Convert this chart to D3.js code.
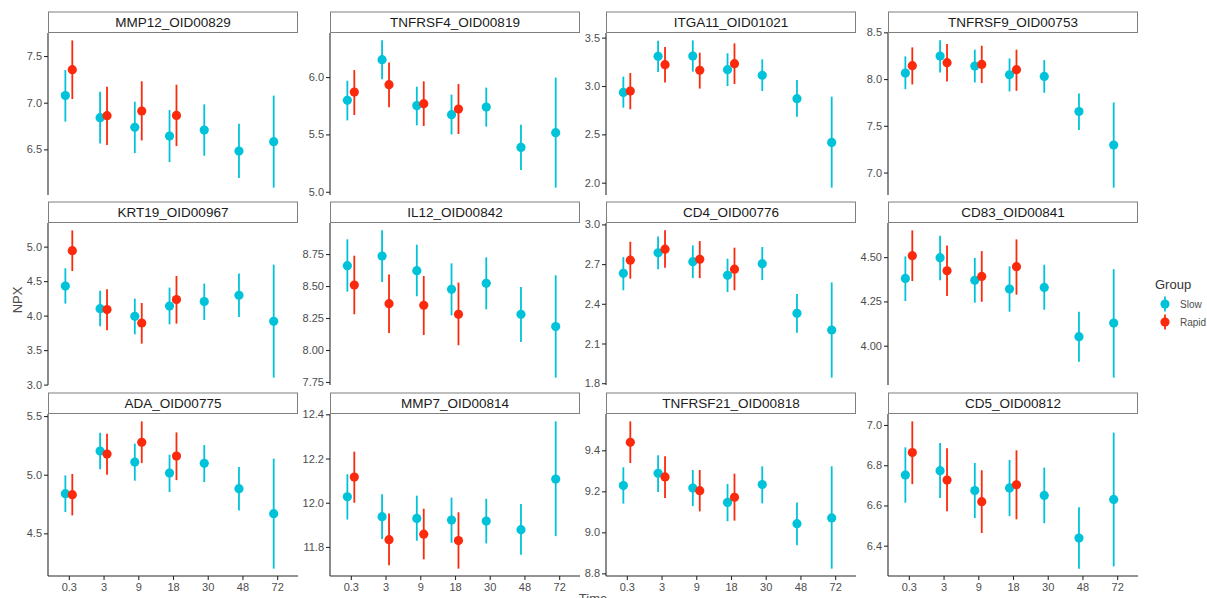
<!DOCTYPE html>
<html>
<head>
<meta charset="utf-8">
<script src="https://cdn.jsdelivr.net/npm/d3@7"></script>
<style>
  html, body { margin: 0; padding: 0; background: #fff; }
  svg { display: block; font-family: 'Liberation Sans', Arial, Helvetica, sans-serif; }
</style>
</head>
<body>
<div id="chart"></div>
<script>
'use strict';

// data
const proteins = ['MMP12_OID00829', 'TNFRSF4_OID00819', 'ITGA11_OID01021', 'TNFRSF9_OID00753',
                  'KRT19_OID00967', 'IL12_OID00842', 'CD4_OID00776', 'CD83_OID00841',
                  'ADA_OID00775', 'MMP7_OID00814', 'TNFRSF21_OID00818', 'CD5_OID00812'];
const times = ['0.3', '3', '9', '18', '30', '48', '72'];
const groups = ['Slow', 'Rapid'];

// slow group: 7 time points
const slowMean = [
    [7.076, 6.84, 6.736, 6.643, 6.707, 6.482, 6.582],
    [5.797, 6.152, 5.751, 5.672, 5.738, 5.387, 5.515],
    [2.934, 3.307, 3.31, 3.169, 3.11, 2.869, 2.417],
    [8.064, 8.246, 8.139, 8.046, 8.028, 7.653, 7.295],
    [4.429, 4.101, 3.99, 4.139, 4.203, 4.294, 3.917],
    [8.659, 8.734, 8.62, 8.474, 8.521, 8.279, 8.183],
    [2.63, 2.786, 2.718, 2.615, 2.703, 2.328, 2.202],
    [4.38, 4.497, 4.369, 4.32, 4.329, 4.051, 4.128],
    [4.838, 5.202, 5.108, 5.014, 5.097, 4.881, 4.668],
    [12.027, 11.937, 11.929, 11.922, 11.917, 11.878, 12.107],
    [9.228, 9.288, 9.216, 9.146, 9.233, 9.042, 9.07],
    [6.751, 6.773, 6.674, 6.687, 6.65, 6.438, 6.63]
];
const slowLow = [
    [6.797, 6.564, 6.46, 6.364, 6.432, 6.192, 6.09],
    [5.622, 5.98, 5.579, 5.5, 5.568, 5.189, 5.036],
    [2.776, 3.144, 3.148, 2.999, 2.948, 2.683, 1.949],
    [7.892, 8.071, 7.964, 7.868, 7.853, 7.456, 6.839],
    [4.174, 3.845, 3.729, 3.874, 3.936, 3.98, 3.101],
    [8.456, 8.531, 8.42, 8.271, 8.318, 8.063, 7.784],
    [2.502, 2.662, 2.594, 2.489, 2.579, 2.182, 1.842],
    [4.252, 4.37, 4.243, 4.192, 4.203, 3.91, 3.82],
    [4.682, 5.046, 4.949, 4.852, 4.937, 4.694, 4.199],
    [11.924, 11.836, 11.828, 11.819, 11.816, 11.765, 11.849],
    [9.14, 9.197, 9.128, 9.054, 9.141, 8.937, 8.823],
    [6.614, 6.637, 6.537, 6.547, 6.512, 6.286, 6.297]
];
const slowHigh = [
    [7.35, 7.118, 7.011, 6.921, 6.982, 6.775, 7.076],
    [5.968, 6.32, 5.916, 5.847, 5.908, 5.585, 5.995],
    [3.097, 3.469, 3.472, 3.338, 3.276, 3.062, 2.89],
    [8.243, 8.414, 8.314, 8.221, 8.203, 7.846, 7.75],
    [4.686, 4.362, 4.246, 4.406, 4.464, 4.609, 4.739],
    [8.865, 8.935, 8.823, 8.677, 8.724, 8.492, 8.584],
    [2.753, 2.909, 2.841, 2.741, 2.829, 2.474, 2.562],
    [4.504, 4.621, 4.496, 4.448, 4.457, 4.192, 4.432],
    [4.994, 5.358, 5.265, 5.171, 5.253, 5.065, 5.137],
    [12.129, 12.038, 12.032, 12.023, 12.018, 11.994, 12.368],
    [9.317, 9.376, 9.304, 9.236, 9.322, 9.145, 9.322],
    [6.889, 6.91, 6.811, 6.826, 6.788, 6.591, 6.962]
];

// rapid group: first 4 time points only
const rapidMean = [
    [7.354, 6.861, 6.911, 6.864],
    [5.869, 5.934, 5.768, 5.721],
    [2.948, 3.221, 3.162, 3.231],
    [8.143, 8.175, 8.157, 8.1],
    [4.942, 4.087, 3.893, 4.232],
    [8.508, 8.362, 8.349, 8.279],
    [2.73, 2.813, 2.736, 2.662],
    [4.508, 4.423, 4.391, 4.446],
    [4.83, 5.176, 5.276, 5.159],
    [12.116, 11.833, 11.858, 11.829],
    [9.439, 9.27, 9.203, 9.171],
    [6.863, 6.726, 6.619, 6.703]
];
const rapidLow = [
    [7.04, 6.546, 6.596, 6.535],
    [5.669, 5.736, 5.573, 5.503],
    [2.759, 3.035, 2.973, 3.021],
    [7.943, 7.975, 7.957, 7.874],
    [4.646, 3.787, 3.594, 3.884],
    [8.279, 8.133, 8.117, 8.037],
    [2.59, 2.673, 2.594, 2.502],
    [4.365, 4.28, 4.248, 4.288],
    [4.653, 5.0, 5.099, 4.954],
    [12.0, 11.717, 11.744, 11.702],
    [9.338, 9.167, 9.102, 9.057],
    [6.706, 6.571, 6.463, 6.531]
];
const rapidHigh = [
    [7.668, 7.172, 7.229, 7.193],
    [6.061, 6.128, 5.963, 5.939],
    [3.134, 3.403, 3.345, 3.441],
    [8.339, 8.375, 8.357, 8.314],
    [5.236, 4.381, 4.183, 4.574],
    [8.737, 8.591, 8.578, 8.527],
    [2.869, 2.955, 2.874, 2.824],
    [4.651, 4.566, 4.534, 4.6],
    [5.006, 5.35, 5.455, 5.361],
    [12.231, 11.951, 11.973, 11.957],
    [9.541, 9.371, 9.304, 9.286],
    [7.018, 6.884, 6.775, 6.874]
];

// y tick labels per facet
const yTicks = [
    ['6.5', '7.0', '7.5'],
    ['5.0', '5.5', '6.0'],
    ['2.0', '2.5', '3.0', '3.5'],
    ['7.0', '7.5', '8.0', '8.5'],
    ['3.0', '3.5', '4.0', '4.5', '5.0'],
    ['7.75', '8.00', '8.25', '8.50', '8.75'],
    ['1.8', '2.1', '2.4', '2.7', '3.0'],
    ['4.00', '4.25', '4.50'],
    ['4.5', '5.0', '5.5'],
    ['11.8', '12.0', '12.2', '12.4'],
    ['8.8', '9.0', '9.2', '9.4'],
    ['6.4', '6.6', '6.8', '7.0']
];

// layout
const width = 1207, height = 598;
const col_left = [48, 330, 606, 888];
const panel_width = 250;
const panel_height = 162;
const strip_height = 21.5;
const row_bottom = [195, 385, 576];

const color = { Slow: '#00C3DA', Rapid: '#FB2A0C' };
const text_color = '#4d4d4d';
const axis_color = '#2b2b2b';

const svg = d3.select('#chart').append('svg')
    .attr('width', width)
    .attr('height', height);

proteins.forEach((name, p) => {
    const col = p % 4, row = Math.floor(p / 4);
    const left = col_left[col];
    const bottom = row_bottom[row];
    const top = bottom - panel_height;

    // x scale: discrete time points
    const x = d3.scalePoint().domain(times).range([left, left + panel_width]).padding(0.6);
    const dodge = x.step() * 0.1;

    // y scale: free per facet, 5% expansion like ggplot
    const vals = slowLow[p].concat(slowHigh[p], rapidLow[p], rapidHigh[p]);
    const lo = d3.min(vals), hi = d3.max(vals);
    const pad = (hi - lo) * 0.05;
    const y = d3.scaleLinear().domain([lo - pad, hi + pad]).range([bottom, top]);

    const g = svg.append('g');

    // strip
    g.append('rect')
        .attr('x', left + 0.5)
        .attr('y', top - strip_height + 0.5)
        .attr('width', panel_width - 1)
        .attr('height', strip_height - 1)
        .attr('fill', '#fff')
        .attr('stroke', '#7f7f7f')
        .attr('stroke-width', 1);
    g.append('text')
        .attr('x', left + panel_width / 2)
        .attr('y', top - strip_height / 2 + 5)
        .attr('text-anchor', 'middle')
        .attr('font-size', '13.5px')
        .attr('fill', '#1a1a1a')
        .text(name);

    // y axis
    const yAxis = d3.axisLeft(y)
        .tickValues(yTicks[p].map(Number))
        .tickFormat((d, i) => yTicks[p][i])
        .tickSize(4)
        .tickPadding(2);
    const ya = g.append('g')
        .attr('transform', `translate(${left},0)`)
        .call(yAxis);
    ya.select('.domain').attr('d', `M0,${top}V${bottom}`).attr('stroke', axis_color).attr('stroke-width', 1.1);
    ya.selectAll('.tick line').attr('stroke', axis_color).attr('stroke-width', 1.1);
    ya.selectAll('.tick text')
        .attr('fill', text_color)
        .attr('font-size', '11px')
        .attr('font-family', "'Liberation Sans', Arial, sans-serif");

    // x axis only on bottom row
    if (row === 2) {
        const xa = g.append('g')
            .attr('transform', `translate(0,${bottom})`)
            .call(d3.axisBottom(x).tickSize(4).tickPadding(3));
        xa.select('.domain').attr('d', `M${left},0H${left + panel_width}`).attr('stroke', axis_color).attr('stroke-width', 1.1);
        xa.selectAll('.tick line').attr('stroke', axis_color).attr('stroke-width', 1.1);
        xa.selectAll('.tick text')
            .attr('fill', text_color)
            .attr('font-size', '11px')
            .attr('font-family', "'Liberation Sans', Arial, sans-serif");
    }

    // build point-range rows
    const rows = [];
    times.forEach((t, i) => rows.push({ group: 'Slow', t: t, m: slowMean[p][i], l: slowLow[p][i], h: slowHigh[p][i] }));
    rapidMean[p].forEach((m, i) => rows.push({ group: 'Rapid', t: times[i], m: m, l: rapidLow[p][i], h: rapidHigh[p][i] }));

    const cx = d => x(d.t) + (d.group === 'Slow' ? -dodge : dodge);

    const pr = g.selectAll('g.pr')
        .data(rows)
        .enter()
        .append('g')
        .attr('class', 'pr');

    pr.append('line')
        .attr('x1', cx)
        .attr('x2', cx)
        .attr('y1', d => y(d.l))
        .attr('y2', d => y(d.h))
        .attr('stroke', d => color[d.group])
        .attr('stroke-width', 1.8);

    pr.append('circle')
        .attr('cx', cx)
        .attr('cy', d => y(d.m))
        .attr('r', 4.6)
        .attr('fill', d => color[d.group]);
});

// axis titles
svg.append('text')
    .attr('transform', 'translate(22,300) rotate(-90)')
    .attr('text-anchor', 'middle')
    .attr('font-size', '13px')
    .attr('fill', text_color)
    .text('NPX');

svg.append('text')
    .attr('x', 593)
    .attr('y', 603)
    .attr('text-anchor', 'middle')
    .attr('font-size', '13px')
    .attr('fill', text_color)
    .text('Time');

// legend
const legend = svg.append('g');
legend.append('text')
    .attr('x', 1155)
    .attr('y', 289)
    .attr('font-size', '13px')
    .attr('fill', '#333')
    .text('Group');

groups.forEach((grp, i) => {
    const ky = 304 + i * 18;
    legend.append('line')
        .attr('x1', 1165).attr('x2', 1165)
        .attr('y1', ky - 7.5).attr('y2', ky + 7.5)
        .attr('stroke', color[grp])
        .attr('stroke-width', 1.8);
    legend.append('circle')
        .attr('cx', 1165)
        .attr('cy', ky)
        .attr('r', 4.6)
        .attr('fill', color[grp]);
    legend.append('text')
        .attr('x', 1180)
        .attr('y', ky + 4)
        .attr('font-size', '10px')
        .attr('fill', text_color)
        .text(grp);
});
</script>
</body>
</html>
